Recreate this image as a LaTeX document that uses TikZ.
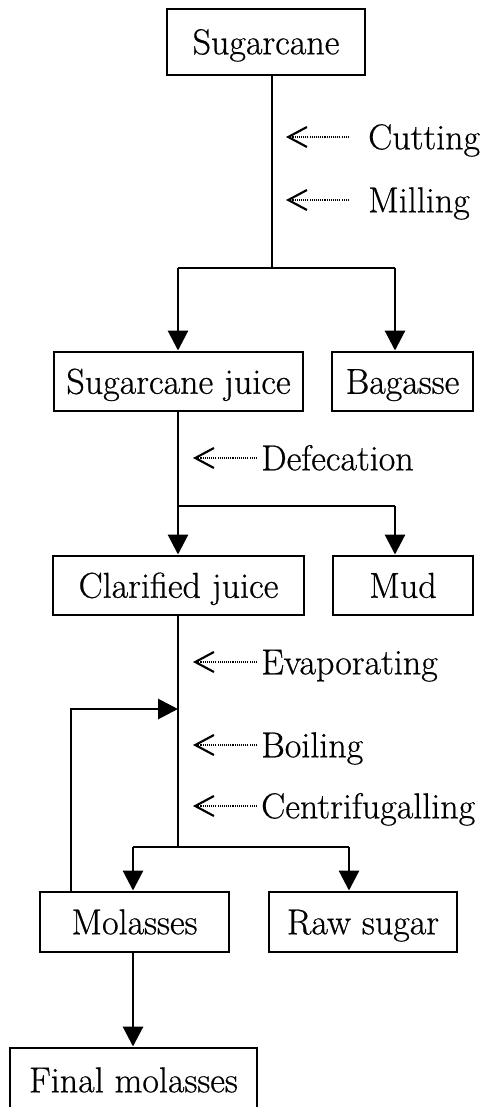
\documentclass[tikz,border=0pt]{standalone}
\usepackage{fontspec}
\newfontfamily\reffont{Latin Modern Roman}[FakeBold=0.6]
\usetikzlibrary{arrows.meta}
\begin{document}
\begin{tikzpicture}[x=0.75pt,y=-0.75pt,
  txt/.style={font=\reffont\fontsize{27}{32}\selectfont,text height=18.4pt,text depth=0pt},
  box/.style={txt,draw,line width=2.2pt,inner sep=0pt},
  lbl/.style={txt,inner sep=0pt,anchor=west},
  flow/.style={line width=2.2pt},
  tri/.style={flow,-{Triangle[length=15pt,width=15pt]}},
  dotarrow/.style={line width=0.8pt,dash pattern=on 0.8pt off 0.8pt,
    -{Straight Barb[length=14pt,width=15pt,line width=1.6pt]}}]
\clip (0,0) rectangle (480,1107);
\fill[white] (0,0) rectangle (480,1107);
% boxes
\node[box,minimum width=198pt*0.75,minimum height=66pt*0.75] (sugarcane) at (266,42) {Sugarcane};
\node[box,minimum width=249pt*0.75,minimum height=59pt*0.75] (sjuice) at (178.5,381.5) {Sugarcane juice};
\node[box,minimum width=141pt*0.75,minimum height=59pt*0.75] (bagasse) at (402.5,381.5) {Bagasse};
\node[box,minimum width=251pt*0.75,minimum height=59pt*0.75] (clarified) at (178.5,585.5) {Clarified juice};
\node[box,minimum width=140pt*0.75,minimum height=59pt*0.75] (mud) at (403,585.5) {Mud};
\node[box,minimum width=189pt*0.75,minimum height=60pt*0.75] (molasses) at (134.5,922) {Molasses};
\node[box,minimum width=188pt*0.75,minimum height=60pt*0.75] (rawsugar) at (363,922) {Raw sugar};
\node[box,minimum width=247pt*0.75,minimum height=64pt*0.75] (final) at (133.5,1080) {Final molasses};
% process labels
\node[lbl] (cutting) at (368,137) {Cutting};
\node[lbl] (milling) at (368,200) {Milling};
\node[lbl] (defecation) at (261,458) {Defecation};
\node[lbl] (evaporating) at (261,662) {Evaporating};
\node[lbl] (boiling) at (261,745) {Boiling};
\node[lbl] (centrif) at (261,806) {Centrifugalling};
% junction coordinates
\coordinate (j1) at (272,268);
\coordinate (j1L) at (178,268);
\coordinate (j1R) at (395,268);
\coordinate (j2) at (178,506);
\coordinate (j2R) at (395,506);
\coordinate (j3) at (178,847);
\coordinate (j3L) at (133,847);
\coordinate (j3R) at (349,847);
\coordinate (fb) at (71,709);
\coordinate (fbT) at (178,709);
% tips of dotted arrows
\coordinate (tcut) at (286,137);
\coordinate (tmill) at (286,200);
\coordinate (tdef) at (193,458);
\coordinate (tevap) at (193,662);
\coordinate (tboil) at (193,745);
\coordinate (tcen) at (193,806);
% main flow
\draw[flow] (sugarcane.south -| j1) -- (j1);
\draw[flow] (j1L) -- (j1R);
\draw[tri] (j1L) -- (j1L |- sjuice.north);
\draw[tri] (j1R) -- (j1R |- bagasse.north);
\draw[flow] (sjuice.south -| j2) -- (j2) -- (j2R);
\draw[tri] (j2) -- (j2 |- clarified.north);
\draw[tri] (j2R) -- (j2R |- mud.north);
\draw[flow] (clarified.south -| j3) -- (j3);
\draw[flow] (j3L) -- (j3R);
\draw[tri] (j3L) -- (j3L |- molasses.north);
\draw[tri] (j3R) -- (j3R |- rawsugar.north);
\draw[tri] (molasses.south -| j3L) -- (final.north -| j3L);
\draw[tri] (molasses.north -| fb) -- (fb) -- (fbT);
% dotted arrows
\draw[dotarrow] ([xshift=-14.25pt]cutting.west) -- (tcut);
\draw[dotarrow] ([xshift=-14.25pt]milling.west) -- (tmill);
\draw[dotarrow] ([xshift=-3pt]defecation.west) -- (tdef);
\draw[dotarrow] ([xshift=-3pt]evaporating.west) -- (tevap);
\draw[dotarrow] ([xshift=-3pt]boiling.west) -- (tboil);
\draw[dotarrow] ([xshift=-3pt]centrif.west) -- (tcen);
\end{tikzpicture}
\end{document}
